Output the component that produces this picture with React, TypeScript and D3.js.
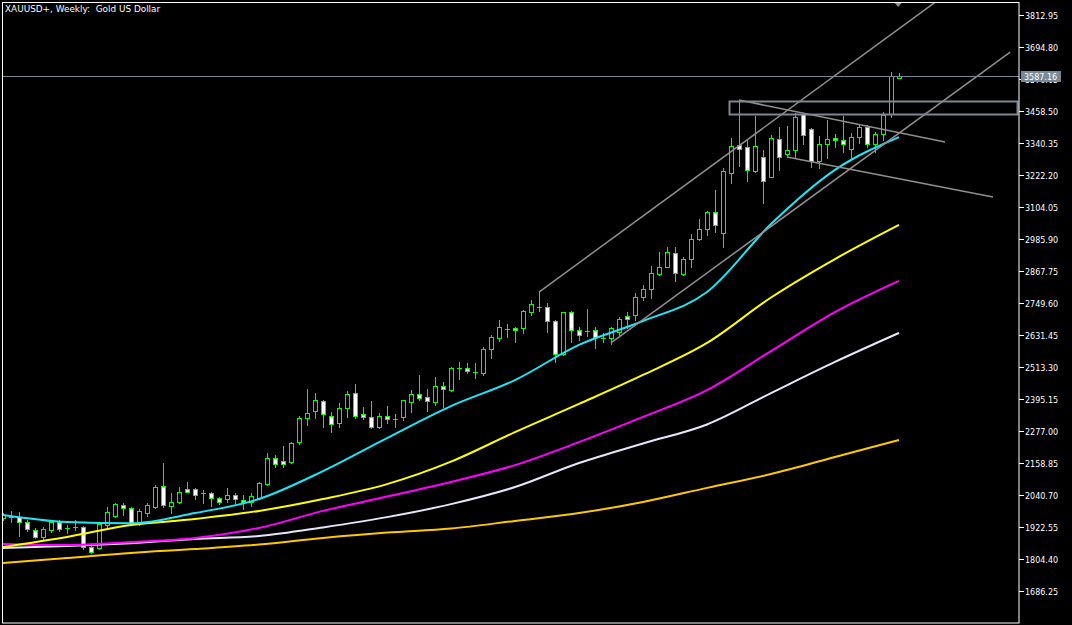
import React from 'react';
import * as d3 from 'd3';

// weekly XAUUSD+ candles, oldest first
const candleOpen = [
  1956, 1959, 1959, 1941, 1911, 1886, 1911, 1941, 1919, 1923,
  1923, 1849, 1845, 1930, 1963, 2004, 1993, 1937, 1974, 1996,
  2074, 2000, 2015, 2063, 2063, 2048, 2048, 2030, 2026, 2041,
  2022, 2015, 2030, 2081, 2177, 2166, 2163, 2236, 2325, 2351,
  2388, 2332, 2307, 2362, 2417, 2340, 2329, 2292, 2332, 2321,
  2329, 2384, 2414, 2403, 2384, 2443, 2428, 2510, 2510, 2495,
  2491, 2580, 2620, 2654, 2657, 2657, 2716, 2735, 2735, 2683,
  2561, 2716, 2650, 2646, 2650, 2620, 2620, 2643, 2702, 2705,
  2772, 2801, 2857, 2883, 2934, 2857, 2912, 2986, 3023, 3086,
  3008, 3230, 3333, 3326, 3237, 3289, 3215, 3355, 3300, 3314,
  3447, 3392, 3274, 3337, 3359, 3351, 3318, 3362, 3399, 3337,
  3374, 3447, 3580,
];
const candleHigh = [
  1974, 1982, 1978, 1948, 1919, 1923, 1948, 1948, 1930, 1948,
  1926, 1863, 1937, 1996, 2011, 2011, 1995, 1989, 2011, 2078,
  2159, 2048, 2070, 2089, 2067, 2059, 2052, 2033, 2067, 2048,
  2041, 2048, 2089, 2196, 2188, 2222, 2236, 2332, 2432, 2417,
  2390, 2347, 2380, 2425, 2451, 2366, 2388, 2343, 2369, 2340,
  2393, 2428, 2484, 2432, 2476, 2458, 2512, 2532, 2528, 2528,
  2587, 2631, 2687, 2672, 2661, 2722, 2761, 2790, 2750, 2685,
  2718, 2720, 2661, 2727, 2661, 2639, 2661, 2698, 2716, 2787,
  2816, 2886, 2938, 2956, 2956, 2919, 3004, 3060, 3089, 3167,
  3248, 3359, 3499, 3355, 3440, 3314, 3370, 3399, 3403, 3451,
  3452, 3396, 3366, 3425, 3374, 3440, 3377, 3407, 3407, 3381,
  3455, 3603, 3599,
];
const candleLow = [
  1948, 1941, 1889, 1908, 1882, 1878, 1904, 1908, 1900, 1911,
  1841, 1827, 1841, 1923, 1959, 1967, 1936, 1930, 1963, 1994,
  1996, 1974, 2011, 2050, 2026, 2011, 2000, 2007, 2015, 2011,
  1989, 2000, 2026, 2078, 2144, 2144, 2159, 2229, 2299, 2325,
  2292, 2273, 2292, 2329, 2325, 2321, 2288, 2288, 2307, 2292,
  2318, 2347, 2391, 2351, 2373, 2366, 2426, 2469, 2491, 2473,
  2484, 2547, 2609, 2624, 2606, 2639, 2705, 2720, 2643, 2532,
  2558, 2606, 2613, 2628, 2583, 2606, 2598, 2631, 2657, 2687,
  2761, 2768, 2853, 2881, 2831, 2853, 2883, 2982, 3001, 3012,
  2956, 3193, 3255, 3200, 3233, 3119, 3213, 3241, 3289, 3289,
  3337, 3252, 3248, 3285, 3326, 3307, 3285, 3340, 3326, 3307,
  3351, 3436, 3579,
];
const candleClose = [
  1967, 1963, 1941, 1915, 1886, 1915, 1941, 1915, 1920, 1922,
  1849, 1830, 1934, 1978, 2007, 1993, 1937, 1982, 2004, 2070,
  2004, 2015, 2052, 2052, 2041, 2047, 2030, 2015, 2041, 2026,
  2015, 2037, 2085, 2177, 2155, 2155, 2233, 2325, 2343, 2391,
  2340, 2303, 2362, 2414, 2332, 2329, 2292, 2332, 2321, 2320,
  2391, 2414, 2399, 2388, 2443, 2432, 2510, 2509, 2499, 2494,
  2580, 2624, 2661, 2653, 2650, 2720, 2746, 2734, 2683, 2561,
  2716, 2650, 2631, 2645, 2624, 2619, 2657, 2691, 2691, 2772,
  2801, 2860, 2883, 2938, 2860, 2912, 2986, 3023, 3086, 3038,
  3237, 3329, 3318, 3241, 3329, 3200, 3359, 3289, 3314, 3436,
  3370, 3274, 3337, 3355, 3351, 3337, 3362, 3399, 3337, 3374,
  3444, 3588, 3587.16,
];

// moving averages, sampled every 8th bar
const maIndex = [0, 8, 16, 24, 32, 40, 48, 56, 64, 72, 80, 88, 96, 104, 112];
const maCyan = [1967, 1941, 1936, 1974, 2026, 2129, 2251, 2369, 2465, 2595, 2683, 2790, 3041, 3241, 3362];
const maYellow = [1849, 1886, 1930, 1952, 1982, 2026, 2081, 2164, 2273, 2377, 2484, 2602, 2770, 2912, 3038];
const maMagenta = [1860, 1856, 1867, 1882, 1919, 1982, 2035, 2089, 2151, 2236, 2329, 2428, 2572, 2716, 2831];
const maWhite = [1845, 1852, 1863, 1878, 1889, 1921, 1959, 2007, 2070, 2159, 2231, 2301, 2417, 2532, 2639];
const maGold = [1790, 1808, 1827, 1841, 1858, 1882, 1902, 1917, 1945, 1974, 2015, 2067, 2118, 2181, 2244];

// drawn objects: [bar index, price] anchors
const channelUpper = [[67, 2790], [118, 3892]];
const channelLower = [[76, 2602], [125.9, 3676]];
const flagUpper = [[92, 3499], [117.75, 3344]];
const flagLower = [[98, 3289], [123.75, 3141]];
const zoneBars = [90.8, 126.9];
const zonePrices = [3447.4, 3493.6];

const tickLabels = [
  '3812.95', '3694.80', '3576.65', '3458.50', '3340.35', '3222.20', '3104.05',
  '2985.90', '2867.75', '2749.60', '2631.45', '2513.30', '2395.15', '2277.00',
  '2158.85', '2040.70', '1922.55', '1804.40', '1686.25',
];
const lastPrice = 3587.16;

const FONT = '"DejaVu Sans", sans-serif';
const LIME = '#00ff00';

const App: React.FC = () => {
  const xScale = d3.scaleLinear().domain([0, candleOpen.length - 1]).range([3, 899]);
  const yScale = d3.scaleLinear().domain([1686.25, 3812.95]).range([591, 15]);

  const maLine = d3.line<number>()
    .x((_, k) => xScale(maIndex[k]))
    .y(v => yScale(v))
    .curve(d3.curveMonotoneX);

  const seg = (pts: number[][]) => ({
    x1: xScale(pts[0][0]), y1: yScale(pts[0][1]),
    x2: xScale(pts[1][0]), y2: yScale(pts[1][1]),
  });

  const priceY = Math.round(yScale(lastPrice)) + 0.5;
  const zx0 = Math.round(xScale(zoneBars[0])) + 0.5;
  const zx1 = Math.round(xScale(zoneBars[1])) - 0.5;
  const zy0 = Math.round(yScale(zonePrices[1])) + 0.5;
  const zy1 = Math.round(yScale(zonePrices[0])) + 0.5;

  return (
    <svg width={1072} height={625} style={{ position: 'absolute', left: 0, top: 0, display: 'block' }}>
      <rect x={0} y={0} width={1072} height={625} fill="#000" />
      <defs>
        <clipPath id="plot">
          <rect x={2.5} y={2.5} width={1016.5} height={620.5} />
        </clipPath>
        <clipPath id="underLabel">
          <rect x={1019} y={priceY + 5.5} width={53} height={10} />
        </clipPath>
      </defs>

      <g clipPath="url(#plot)">
        {/* candles */}
        <g shapeRendering="crispEdges">
          {candleOpen.map((o, i) => {
            const c = candleClose[i];
            const cx = Math.round(xScale(i));
            const yH = Math.round(yScale(candleHigh[i]));
            const yL = Math.round(yScale(candleLow[i]));
            const top = Math.round(yScale(Math.max(o, c)));
            const bot = Math.round(yScale(Math.min(o, c)));
            return (
              <g key={i}>
                <line x1={cx + 0.5} x2={cx + 0.5} y1={yH} y2={yL + 1} stroke={LIME} strokeWidth={1} />
                {bot - top < 1 ? (
                  <line x1={cx - 2} x2={cx + 3} y1={top + 0.5} y2={top + 0.5} stroke={LIME} strokeWidth={1} />
                ) : (
                  <rect x={cx - 1.5} y={top + 0.5} width={4} height={bot - top}
                    fill={c >= o ? '#000' : '#fff'} stroke={LIME} strokeWidth={1} />
                )}
              </g>
            );
          })}
        </g>

        {/* moving averages */}
        <path d={maLine(maGold) || ''} fill="none" stroke="#ffc800" strokeWidth={2} />
        <path d={maLine(maWhite) || ''} fill="none" stroke="#e6e6fa" strokeWidth={2} />
        <path d={maLine(maMagenta) || ''} fill="none" stroke="#ff00ff" strokeWidth={2} />
        <path d={maLine(maYellow) || ''} fill="none" stroke="#ffff00" strokeWidth={2} />
        <path d={maLine(maCyan) || ''} fill="none" stroke="#1ee6f5" strokeWidth={2} />

        {/* trend objects */}
        {[channelUpper, channelLower, flagUpper, flagLower].map((pts, k) => (
          <line key={k} {...seg(pts)} stroke="#8f8f8f" strokeWidth={1.5} />
        ))}
        <rect x={zx0} y={zy0} width={zx1 - zx0} height={zy1 - zy0}
          fill="none" stroke="#7b8794" strokeWidth={2} />
        <path d={`M${xScale(111.9) - 6},0 L${xScale(111.9) + 6},0 L${xScale(111.9)},7 Z`} fill="#8f8f8f" />

        {/* bid line */}
        <line x1={2} x2={1019} y1={priceY} y2={priceY} stroke="#778899" strokeWidth={1} />
      </g>

      {/* frame */}
      <rect x={2.5} y={2.5} width={1016.5} height={620.5} fill="none" stroke="#fff" strokeWidth={1} />

      {/* price axis */}
      {tickLabels.map(t => {
        const y = Math.round(yScale(+t)) + 0.5;
        const hidden = Math.abs(+t - lastPrice) < 30;
        return (
          <g key={t}>
            <line x1={1019} x2={1024} y1={y} y2={y} stroke="#fff" strokeWidth={1} />
            <text x={1025} y={y + 3} fill="#fff" fontFamily={FONT} fontSize={8}
              clipPath={hidden ? 'url(#underLabel)' : undefined}>{t}</text>
          </g>
        );
      })}
      <rect x={1021} y={priceY - 5.5} width={40} height={11} fill="#778899" />
      <text x={1024} y={priceY + 3} fill="#fff" fontFamily={FONT} fontSize={8}>{lastPrice.toFixed(2)}</text>

      <text x={5} y={12} fill="#fff" fontFamily={FONT} fontSize={8.9} style={{ whiteSpace: 'pre' }}>
        {'XAUUSD+, Weekly:  Gold US Dollar'}
      </text>
    </svg>
  );
};

export default App;
